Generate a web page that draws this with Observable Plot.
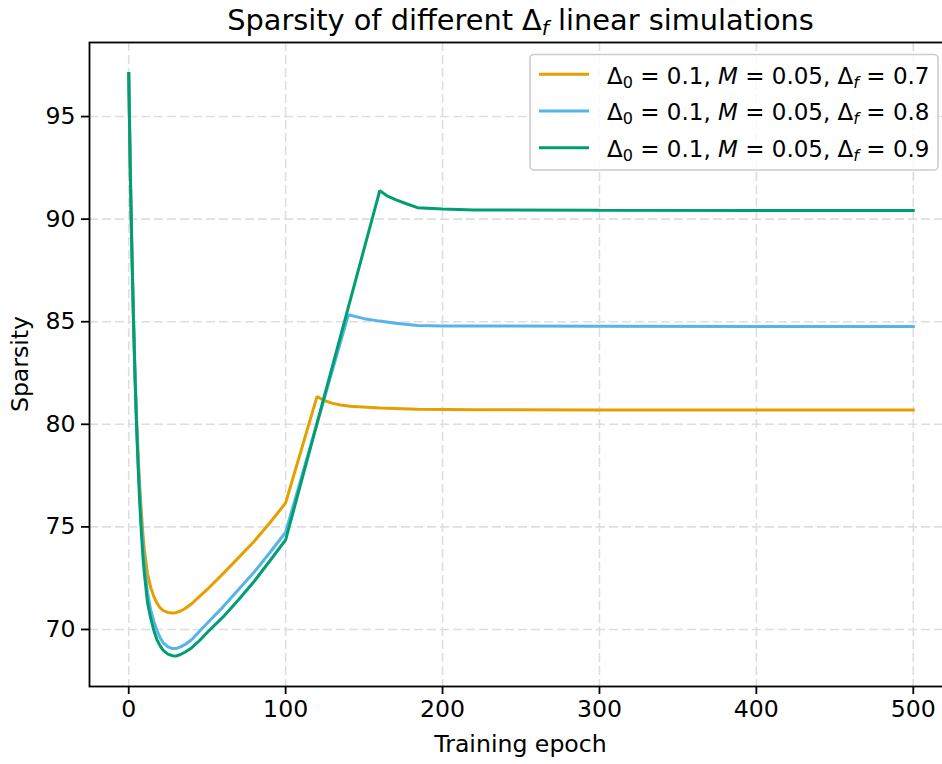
<!DOCTYPE html>
<html>
<head>
<meta charset="utf-8">
<script src="https://cdn.jsdelivr.net/npm/d3@7"></script>
<script src="https://cdn.jsdelivr.net/npm/@observablehq/plot@0.6"></script>
<style>
  html, body { margin: 0; padding: 0; background: #fff; overflow: hidden; }
  #chart { width: 942px; height: 764px; overflow: hidden; position: relative; }
  #chart svg { max-width: none !important; }
</style>
</head>
<body>
<div id="chart"></div>
<script>
// ---- Data ----
const seriesNames = ["Δf = 0.7", "Δf = 0.8", "Δf = 0.9"];
const seriesColors = ["#E69F00", "#56B4E9", "#009E73"];
const deltaF = ["0.7", "0.8", "0.9"];

const epochs07 = [0,1,2,3,4,5,6,7,8,9,10,12,14,16,18,20,22,25,28,30,33,36,40,45,50,60,70,80,90,100,120,125,130,135,141,160,184,220,300,400,500];
const sparsity07 = [97.1,92.3,88.5,85.2,82.5,80.3,78.5,77.0,75.8,74.7,73.85,72.7,72.05,71.6,71.28,71.05,70.92,70.83,70.8,70.82,70.9,71.02,71.25,71.6,71.95,72.71,73.5,74.3,75.2,76.17,81.35,81.15,81.02,80.94,80.88,80.8,80.73,80.71,80.7,80.7,80.7];

const epochs08 = [0,1,2,3,4,5,6,7,8,9,10,12,14,16,18,20,22,25,28,30,33,36,40,45,50,60,70,80,90,100,140,150,160,170,184,200,300,400,500];
const sparsity08 = [97.1,92.3,88.5,85.2,82.4,80.1,78.2,76.6,75.2,74.1,73.1,71.8,70.95,70.4,69.95,69.6,69.35,69.15,69.07,69.07,69.15,69.27,69.5,69.9,70.3,71.09,71.95,72.8,73.75,74.74,85.34,85.15,85.03,84.93,84.82,84.79,84.78,84.77,84.77];

const epochs09 = [0,1,2,3,4,5,6,7,8,9,10,12,14,16,18,20,22,25,28,30,33,36,40,45,50,60,70,80,90,100,160,165,170,177,184,200,220,300,400,500];
const sparsity09 = [97.1,92.3,88.5,85.2,82.3,79.9,77.9,76.2,74.8,73.6,72.7,71.3,70.55,69.95,69.5,69.2,68.98,68.8,68.72,68.7,68.78,68.9,69.1,69.45,69.85,70.6,71.45,72.35,73.35,74.37,91.39,91.12,90.95,90.75,90.56,90.5,90.45,90.43,90.42,90.42];

const xTicks = [0, 100, 200, 300, 400, 500];
const yTicks = [70, 75, 80, 85, 90, 95];

const title = ["Sparsity of different Δ", "f", " linear simulations"];
const xLabel = "Training epoch";
const yLabel = "Sparsity";

// ---- Build table ----
const allEpochs = [epochs07, epochs08, epochs09];
const allValues = [sparsity07, sparsity08, sparsity09];
const rows = [];
seriesNames.forEach((s, i) => {
  allEpochs[i].forEach((e, j) => rows.push({series: s, epoch: e, sparsity: allValues[i][j]}));
});

const FONT = "DejaVu Sans";
const FS = 23.6;
const grid = {stroke: "#dedede", strokeWidth: 1.6, strokeOpacity: 1, strokeDasharray: "9,4"};

const chart = Plot.plot({
  width: 952,
  height: 764,
  marginLeft: 89,
  marginRight: 0,
  marginTop: 42,
  marginBottom: 78,
  style: {fontFamily: FONT, fontSize: FS + "px", color: "#000", background: "#fff", maxWidth: "none"},
  x: {domain: [-25, 525]},
  y: {domain: [67.22, 98.61]},
  color: {domain: seriesNames, range: seriesColors},
  marks: [
    Plot.gridX({ticks: xTicks, ...grid}),
    Plot.gridY({ticks: yTicks, ...grid}),
    Plot.line(rows, {x: "epoch", y: "sparsity", z: "series", stroke: "series", strokeWidth: 3, strokeLinejoin: "miter", strokeLinecap: "square"}),
    Plot.frame({stroke: "#000", strokeWidth: 1.8}),
    Plot.axisX({ticks: xTicks, tickSize: 8, tickPadding: 6, label: null, fontSize: FS, strokeWidth: 1.8, tickFormat: d => String(d)}),
    Plot.axisY({ticks: yTicks, tickSize: 8, tickPadding: 6, label: null, fontSize: FS, strokeWidth: 1.8, tickFormat: d => String(d)})
  ]
});

document.getElementById("chart").appendChild(chart);

const svg = d3.select(chart);

// Title
const t = svg.append("text")
  .attr("x", 520.5).attr("y", 30)
  .attr("text-anchor", "middle")
  .attr("font-family", FONT).attr("font-size", 28.8).attr("fill", "#000");
t.append("tspan").text(title[0]);
t.append("tspan").attr("font-size", 20).attr("font-style", "oblique").attr("dy", 5).text(title[1]);
t.append("tspan").attr("dy", -5).text(title[2]);

// Axis labels
svg.append("text")
  .attr("x", 520.5).attr("y", 752)
  .attr("text-anchor", "middle")
  .attr("font-family", FONT).attr("font-size", FS).attr("fill", "#000")
  .text(xLabel);
svg.append("text")
  .attr("transform", "translate(28,364) rotate(-90)")
  .attr("text-anchor", "middle")
  .attr("font-family", FONT).attr("font-size", FS).attr("fill", "#000")
  .text(yLabel);

// Legend
const lg = svg.append("g");
lg.append("rect")
  .attr("x", 530).attr("y", 54.5).attr("width", 408).attr("height", 115.5)
  .attr("rx", 4).attr("fill", "#fff").attr("fill-opacity", 0.8)
  .attr("stroke", "#cccccc").attr("stroke-width", 1.6);
seriesNames.forEach((s, i) => {
  const y = 74.3 + i * 36.7;
  lg.append("line").attr("x1", 539).attr("x2", 589).attr("y1", y).attr("y2", y)
    .attr("stroke", seriesColors[i]).attr("stroke-width", 3);
  const tx = lg.append("text").attr("x", 607).attr("y", y + 9.2)
    .attr("text-anchor", "start")
    .attr("font-family", FONT).attr("font-size", 23).attr("fill", "#000");
  tx.append("tspan").text("Δ");
  tx.append("tspan").attr("font-size", 16).attr("dy", 4).text("0");
  tx.append("tspan").attr("dy", -4).text(" = 0.1, ");
  tx.append("tspan").attr("font-style", "oblique").text("M");
  tx.append("tspan").text(" = 0.05, Δ");
  tx.append("tspan").attr("font-size", 16).attr("font-style", "oblique").attr("dy", 4).text("f");
  tx.append("tspan").attr("dy", -4).text(" = " + deltaF[i]);
});
</script>
</body>
</html>
